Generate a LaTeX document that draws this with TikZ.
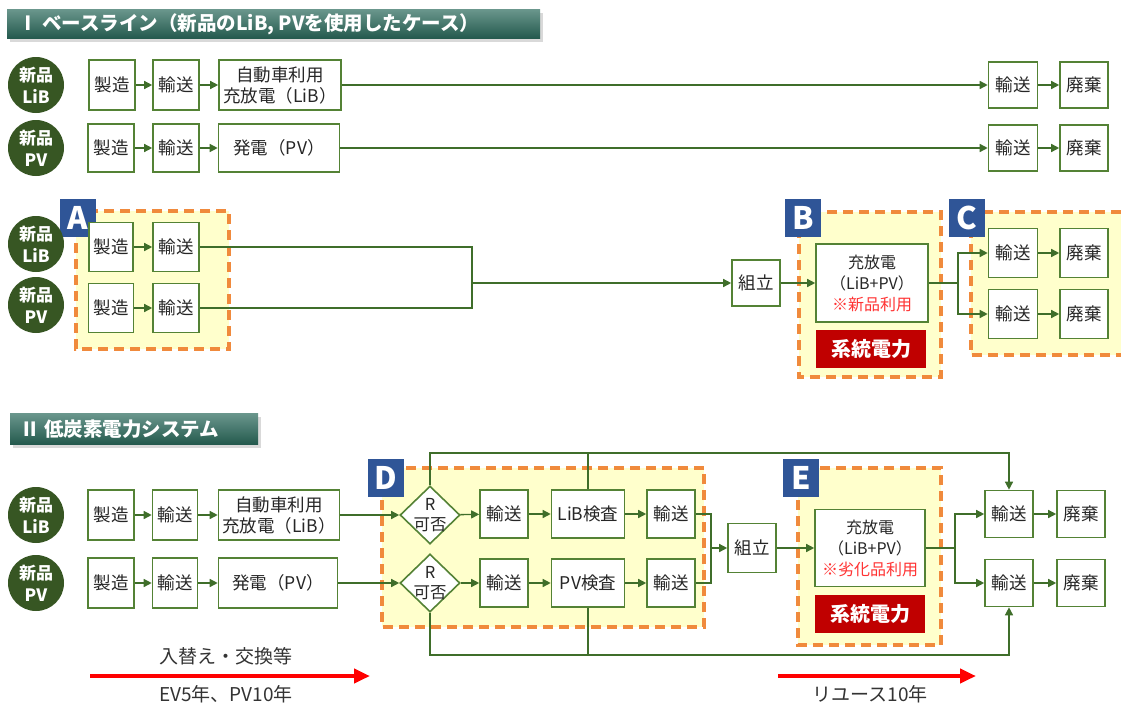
\documentclass[tikz,border=0pt]{standalone}
\usepackage{fontspec}
\setmainfont{Noto Sans CJK JP}
\usepackage{tikz}
\usetikzlibrary{shapes.geometric}
\usetikzlibrary{arrows.meta}

\definecolor{boxgreen}{HTML}{548235}
\definecolor{linegreen}{HTML}{3F6E2A}
\definecolor{circgreen}{HTML}{375623}
\definecolor{zoneorange}{HTML}{F08A3C}
\definecolor{zoneyellow}{HTML}{FFFFCC}
\definecolor{tagblue}{HTML}{2F5597}
\definecolor{gridred}{HTML}{C00000}
\definecolor{headteal}{HTML}{2B6A5C}
\definecolor{notered}{HTML}{FF3333}

\begin{document}
\begin{tikzpicture}
			[x=1pt, y=-1pt,
			box/.style={draw=boxgreen, line width=1.6pt, fill=white, text=black!85, inner sep=0pt, minimum height=48pt, align=center, font=\fontsize{17.5}{21}\selectfont},
			newpart/.style={circle, fill=circgreen, text=white, minimum size=56pt, inner sep=0pt, align=center, font=\bfseries\fontsize{17}{22}\selectfont},
			gate/.style={diamond, draw=boxgreen, line width=1.6pt, fill=white, minimum width=60pt, minimum height=58pt, inner sep=0pt},
			gatetext/.style={align=center, inner sep=0pt, text=black!85, font=\fontsize{16.5}{20}\selectfont},
			zone/.style={draw=zoneorange, fill=zoneyellow, line width=3.2pt, dash pattern=on 10pt off 6pt},
			tag/.style={fill=tagblue, text=white, minimum width=36pt, minimum height=38pt, inner sep=0pt, font=\bfseries\fontsize{31}{31}\selectfont},
			gridbox/.style={fill=gridred, text=white, minimum width=110pt, minimum height=38pt, inner sep=0pt, font=\bfseries\fontsize{20}{20}\selectfont},
			link/.style={draw=linegreen, line width=1.4pt},
			flow/.style={link, -{Triangle[length=8pt, width=8pt]}},
			heading/.style={text=white, anchor=west, inner sep=0pt, font=\bfseries\fontsize{19.5}{19.5}\selectfont},
			caption/.style={text=black!80, font=\fontsize{19}{19}\selectfont},
			term/.style={line width=4pt, draw=red, -{Triangle[length=16pt, width=14pt]}}]
			
			\useasboundingbox (0,0) rectangle (1121,704);
			
			% I
			\fill[black!15] (10,13) rectangle (543,42);
			\shade[top color=headteal!70!white, bottom color=headteal!85!black] (7,9) rectangle (540,38);
			\node[heading] (head1) at (18,24) {Ⅰ\ ベースライン（新品のLiB, PVを使用したケース）};
			
			\node[newpart] (n1) at (36,85) {新品\\LiB};
			\node[box, minimum width=46pt, minimum height=50pt] (m1) at (112,85) {製造};
			\node[box, minimum width=46pt, minimum height=50pt] (t1) at (176,85) {輸送};
			\node[box, minimum width=122pt, minimum height=50pt] (u1) at (280,85) {自動車利用\\充放電（LiB）};
			\node[box, minimum width=49pt, minimum height=46pt] (r1) at (1013,85) {輸送};
			\node[box, minimum width=48pt, minimum height=46pt] (d1) at (1084,85) {廃棄};
			
			\node[newpart] (n2) at (36,148) {新品\\PV};
			\node[box, minimum width=46pt] (m2) at (111,148) {製造};
			\node[box, minimum width=46pt] (t2) at (176,148) {輸送};
			\node[box, minimum width=121pt] (u2) at (279,148) {発電（PV）};
			\node[box, minimum width=49pt, minimum height=46pt] (r2) at (1013,148) {輸送};
			\node[box, minimum width=48pt, minimum height=46pt] (d2) at (1084,148) {廃棄};
			
			\draw[flow] (m1) -- (t1);
			\draw[flow] (t1) -- (u1);
			\draw[flow] (u1) -- (r1);
			\draw[flow] (r1) -- (d1);
			\draw[flow] (m2) -- (t2);
			\draw[flow] (t2) -- (u2);
			\draw[flow] (u2) -- (r2);
			\draw[flow] (r2) -- (d2);
			
			% A, B, C
			\draw[zone] (76,211) rectangle (229,349);
			\draw[zone] (799,212) rectangle (941,377);
			\draw[zone] (971,212) rectangle (1135,355);
			\node[tag] (tagA) at (78,218) {A};
			\node[tag] (tagB) at (803,218) {B};
			\node[tag] (tagC) at (967,218) {C};
			
			\node[newpart] (n3) at (36,244) {新品\\LiB};
			\node[newpart] (n4) at (36,305) {新品\\PV};
			\node[box, minimum width=44pt, minimum height=49pt] (m3) at (111,247) {製造};
			\node[box, minimum width=46pt, minimum height=49pt] (t3) at (176,247) {輸送};
			\node[box, minimum width=45pt, minimum height=49pt] (m4) at (111,308) {製造};
			\node[box, minimum width=46pt, minimum height=49pt] (t4) at (176,308) {輸送};
			\coordinate (j1) at (472,283);
			\node[box, minimum width=48pt, minimum height=46pt] (a1) at (756,283) {組立};
			\node[box, minimum width=112pt, minimum height=78pt, font=\fontsize{16}{21}\selectfont] (c1) at (872,283) {充放電\\（LiB+PV）\\\textcolor{notered}{※新品利用}};
			\node[gridbox] (g1) at (871,349) {系統電力};
			\coordinate (s1) at (958,283);
			\node[box, minimum width=49pt, minimum height=49pt] (r3) at (1013,253) {輸送};
			\node[box, minimum width=48pt, minimum height=49pt] (d3) at (1084,253) {廃棄};
			\node[box, minimum width=49pt, minimum height=49pt] (r4) at (1013,314) {輸送};
			\node[box, minimum width=48pt, minimum height=49pt] (d4) at (1084,314) {廃棄};
			
			\draw[flow] (m3) -- (t3);
			\draw[flow] (m4) -- (t4);
			\draw[link] (t3.east) -| (j1) |- (t4.east);
			\draw[flow] (j1) -- (a1);
			\draw[flow] (a1) -- (c1);
			\draw[link] (c1.east) -- (s1);
			\draw[flow] (s1) |- (r3.west);
			\draw[flow] (s1) |- (r4.west);
			\draw[flow] (r3) -- (d3);
			\draw[flow] (r4) -- (d4);
			
			% II
			\fill[black!15] (13,417) rectangle (261,448);
			\shade[top color=headteal!70!white, bottom color=headteal!85!black] (10,413) rectangle (258,444);
			\node[heading] (head2) at (20,429) {Ⅱ\ 低炭素電力システム};
			
			\draw[zone] (382,468) rectangle (704,627);
			\draw[zone] (798,468) rectangle (941,645);
			\node[tag] (tagD) at (386,478) {D};
			\node[tag] (tagE) at (801,478) {E};
			
			\node[newpart] (n5) at (36,515) {新品\\LiB};
			\node[box, minimum width=46pt, minimum height=50pt] (m5) at (111,515) {製造};
			\node[box, minimum width=45pt, minimum height=50pt] (t5) at (175,515) {輸送};
			\node[box, minimum width=121pt, minimum height=50pt] (u5) at (279,515) {自動車利用\\充放電（LiB）};
			\node[gate] (q5) at (430,515) {};
			\node[gatetext] (q5t) at (q5) {R\\可否};
			\node[box, minimum width=48pt] (k5) at (504,514) {輸送};
			\node[box, minimum width=73pt] (i5) at (588,514) {LiB検査};
			\node[box, minimum width=48pt] (p5) at (671,514) {輸送};
			
			\node[newpart] (n6) at (36,583) {新品\\PV};
			\node[box, minimum width=46pt, minimum height=50pt] (m6) at (111,583) {製造};
			\node[box, minimum width=45pt, minimum height=50pt] (t6) at (175,583) {輸送};
			\node[box, minimum width=119pt, minimum height=50pt] (u6) at (278,583) {発電（PV）};
			\node[gate] (q6) at (430,583) {};
			\node[gatetext] (q6t) at (q6) {R\\可否};
			\node[box, minimum width=48pt] (k6) at (504,583) {輸送};
			\node[box, minimum width=73pt] (i6) at (588,583) {PV検査};
			\node[box, minimum width=48pt] (p6) at (671,583) {輸送};
			
			\coordinate (j2) at (711,548);
			\node[box, minimum width=48pt, minimum height=49pt] (a2) at (752,548) {組立};
			\node[box, minimum width=110pt, minimum height=77pt, font=\fontsize{16}{21}\selectfont] (c2) at (870,548) {充放電\\（LiB+PV）\\\textcolor{notered}{※劣化品利用}};
			\node[gridbox] (g2) at (870,614) {系統電力};
			\coordinate (s2) at (955,548);
			\node[box, minimum width=48pt, minimum height=47pt] (r5) at (1009,514) {輸送};
			\node[box, minimum width=48pt, minimum height=47pt] (d5) at (1081,514) {廃棄};
			\node[box, minimum width=48pt, minimum height=47pt] (r6) at (1009,583) {輸送};
			\node[box, minimum width=48pt, minimum height=47pt] (d6) at (1081,583) {廃棄};
			\coordinate (over) at (588,453);
			\coordinate (under) at (588,655);
			
			\draw[flow] (m5) -- (t5);
			\draw[flow] (t5) -- (u5);
			\draw[flow] (u5) -- (q5);
			\draw[flow] (q5) -- (k5);
			\draw[flow] (k5) -- (i5);
			\draw[flow] (i5) -- (p5);
			\draw[flow] (m6) -- (t6);
			\draw[flow] (t6) -- (u6);
			\draw[flow] (u6) -- (q6);
			\draw[flow] (q6) -- (k6);
			\draw[flow] (k6) -- (i6);
			\draw[flow] (i6) -- (p6);
			\draw[link] (p5.east) -| (j2) |- (p6.east);
			\draw[flow] (j2) -- (a2);
			\draw[flow] (a2) -- (c2);
			\draw[link] (c2.east) -- (s2);
			\draw[flow] (s2) |- (r5.west);
			\draw[flow] (s2) |- (r6.west);
			\draw[flow] (r5) -- (d5);
			\draw[flow] (r6) -- (d6);
			\draw[link] (i5.north) -- (over);
			\draw[flow] (q5.north) |- (over) -| (r5.north);
			\draw[link] (i6.south) -- (under);
			\draw[flow] (q6.south) |- (under) -| (r6.south);
			
			% time spans
			\coordinate (e0) at (90,676);
			\coordinate (e1) at (370,676);
			\coordinate (e2) at (778,676);
			\coordinate (e3) at (976,676);
			\draw[term] (e0) -- (e1);
			\draw[term] (e2) -- (e3);
			\node[caption] (swap) at (226,656) {入替え・交換等};
			\node[caption] (life) at (226,694) {EV5年、PV10年};
			\node[caption] (reuse) at (870,694) {リユース10年};
		\end{tikzpicture}
\end{document}
